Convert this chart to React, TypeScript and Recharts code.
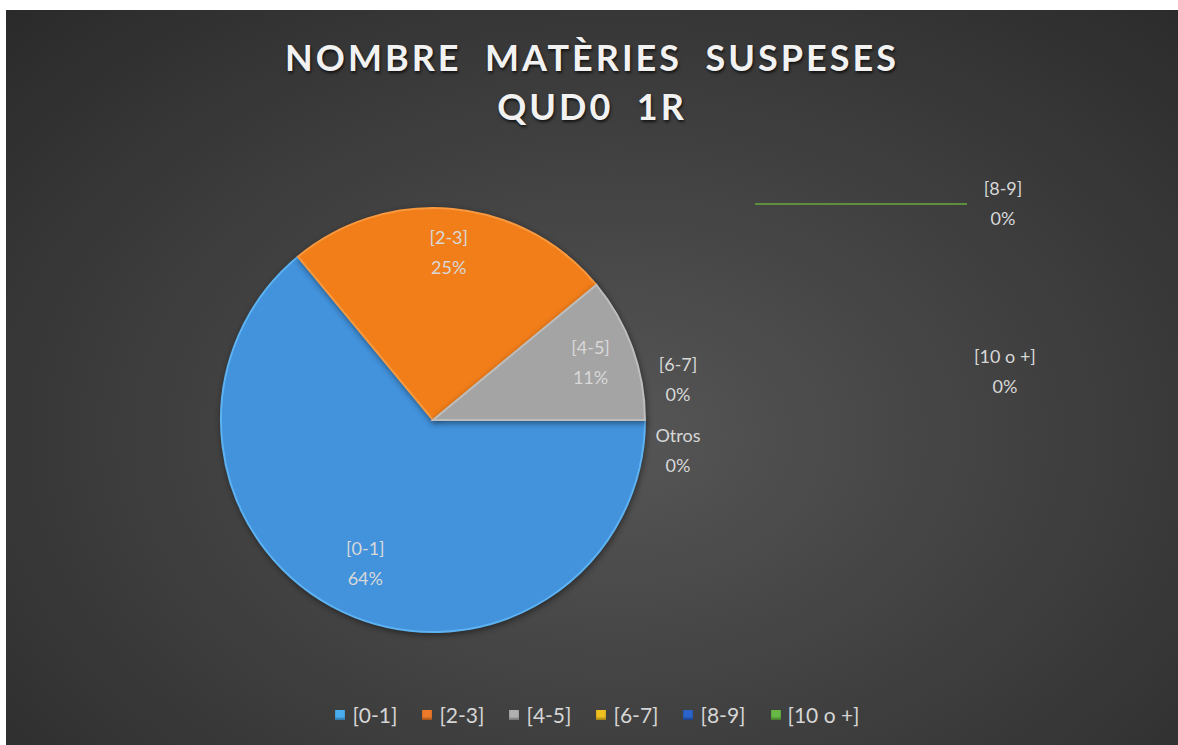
import { PieChart, Pie, Cell, Legend } from 'recharts';

const categories = ['[0-1]', '[2-3]', '[4-5]', '[6-7]', '[8-9]', '[10 o +]', 'Otros'];
const values = [64, 25, 11, 0, 0, 0, 0];
const legendNames = ['[0-1]', '[2-3]', '[4-5]', '[6-7]', '[8-9]', '[10 o +]'];
const sliceColors = ['#4292dc', '#f27e1a', '#a4a4a4', '#ffc000', '#3b6dcf', '#6aae3f', '#2f6ea8'];
const sliceEdges = ['#5db2f2', '#f8993f', '#bdbdbd', '#ffd24d', '#5a88e0', '#86c45c', '#4a8ac4'];
const legendColors = ['#4aaef0', '#ee7a2a', '#b0b0b0', '#f0c020', '#2c64cc', '#66b944'];
const titleLines = ['NOMBRE  MATÈRIES  SUSPESES', 'QUD0  1R'];

const data = categories.map((name, i) => ({ name, value: values[i] }));
const total = values.reduce((a, b) => a + b, 0);

// where Excel parked the labels of the empty slices (relative to the pie's right edge)
const zeroLabels: Record<string, { dx: number; dy: number; line?: [number, number] }> = {
  '[6-7]': { dx: 33, dy: -40 },
  'Otros': { dx: 33, dy: 31 },
  '[8-9]': { dx: 358, dy: -216, line: [110, 322] },
  '[10 o +]': { dx: 360, dy: -48 },
};

const labelFont = 'Lato, "Open Sans", sans-serif';

const renderLabel = (props: any) => {
  const { cx, cy, midAngle, outerRadius, name, value } = props;
  const pct = `${Math.round((value / total) * 100)}%`;
  let x: number;
  let y: number;
  let line: [number, number] | undefined;
  if (value > 0) {
    const rad = (Math.PI / 180) * midAngle;
    const r = outerRadius * (value > 50 ? 0.75 : 0.79);
    x = cx + r * Math.cos(rad);
    y = cy - r * Math.sin(rad);
  } else {
    const z = zeroLabels[name];
    if (!z) return null;
    x = cx + outerRadius + z.dx;
    y = cy + z.dy;
    line = z.line;
  }
  return (
    <g key={`lbl-${name}`}>
      {line && (
        <line
          x1={cx + outerRadius + line[0]}
          x2={cx + outerRadius + line[1]}
          y1={y}
          y2={y}
          stroke="#5f8f3c"
          strokeWidth={2}
        />
      )}
      <text x={x} y={y} textAnchor="middle" fill="#d8d8d8" fontSize={18} fontFamily={labelFont}>
        <tspan x={x} dy={-9}>{name}</tspan>
        <tspan x={x} dy={30}>{pct}</tspan>
      </text>
    </g>
  );
};

const renderLegend = () => (
  <div
    style={{
      display: 'flex',
      justifyContent: 'center',
      alignItems: 'center',
      gap: 25,
      fontFamily: labelFont,
      fontSize: 21,
      color: '#d6d6d6',
      paddingLeft: 11,
    }}
  >
    {legendNames.map((n, i) => (
      <span key={n} style={{ display: 'flex', alignItems: 'center', gap: 7 }}>
        <span
          style={{
            width: 10,
            height: 10,
            background: legendColors[i],
            boxShadow: 'inset 0 -2px 2px rgba(0,0,0,0.3)',
            display: 'inline-block',
          }}
        />
        {n}
      </span>
    ))}
  </div>
);

const App = () => {
  return (
    <div
      style={{
        position: 'absolute',
        left: 6,
        top: 10,
        width: 1172,
        height: 735,
        background: 'radial-gradient(ellipse at 52% 58%, #565656 0%, #444444 40%, #2a2a2a 100%)',
      }}
    >
      <div
        style={{
          position: 'absolute',
          top: 23,
          left: 0,
          width: 1172,
          textAlign: 'center',
          fontFamily: labelFont,
          fontWeight: 700,
          fontSize: 36,
          lineHeight: '49px',
          letterSpacing: 3,
          color: '#f2f2f2',
          whiteSpace: 'pre',
          textShadow: '1px 2px 3px rgba(0,0,0,0.7)',
        }}
      >
        {titleLines.map((t) => (
          <div key={t}>{t}</div>
        ))}
      </div>
      <PieChart
        width={1172}
        height={735}
        margin={{ top: 0, right: 0, bottom: 0, left: 0 }}
        style={{ position: 'absolute', left: 0, top: 0 }}
      >
        <Pie
          data={data}
          dataKey="value"
          nameKey="name"
          cx={427}
          cy={410}
          outerRadius={212}
          startAngle={0}
          endAngle={-360}
          label={renderLabel}
          labelLine={false}
          isAnimationActive={false}
        >
          {data.map((d, i) => (
            <Cell
              key={d.name}
              fill={sliceColors[i]}
              stroke={d.value > 0 ? sliceEdges[i] : 'none'}
              strokeWidth={2}
              style={{ filter: 'drop-shadow(1px 2px 3px rgba(0,0,0,0.45))' }}
            />
          ))}
        </Pie>
        <Legend
          content={renderLegend}
          wrapperStyle={{ position: 'absolute', top: 692, left: 0, width: 1172 }}
        />
      </PieChart>
    </div>
  );
};

export default App;
